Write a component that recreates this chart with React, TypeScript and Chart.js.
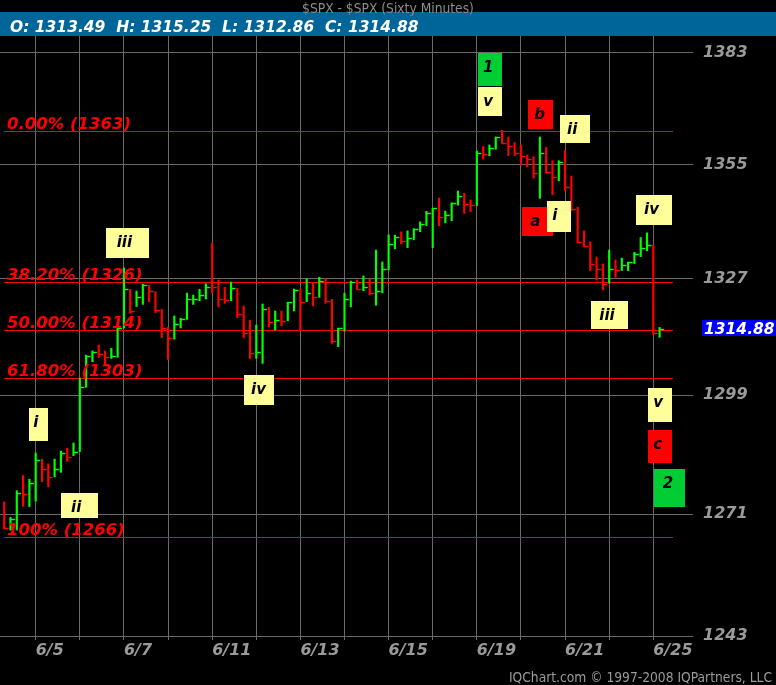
import React, { useEffect, useRef } from "react";
import { Chart, registerables } from "chart.js";

Chart.register(...registerables);

// ---------- text ----------
const titleText = "$SPX - $SPX (Sixty Minutes)";
const copyrightText = "IQChart.com \u00a9 1997-2008 IQPartners, LLC";

// ---------- x axis: trading days (first hourly bar of each day) ----------
const dayLabels = ["6/5", "6/6", "6/7", "6/8", "6/11", "6/12", "6/13", "6/14", "6/15", "6/18", "6/19", "6/20", "6/21", "6/22", "6/25"];
const dayStartBars = [5, 12, 19, 26, 33, 40, 47, 54, 61, 68, 75, 82, 89, 96, 103];

// ---------- hourly HLC bars ----------
const barHighs = [
  1273.9, 1270.3, 1276.5, 1280.1, 1279.2, 1285.35, 1283.9, 1282.8, 1283.9, 1285.8,
  1286.5, 1287.7, 1303.1, 1308.6, 1309.6, 1311.0, 1309.6, 1310.2, 1315.3, 1329.6,
  1324.45, 1324.0, 1325.7, 1325.4, 1323.85, 1319.6, 1315.3, 1318.0, 1317.45, 1323.5,
  1323.05, 1324.45, 1325.8, 1335.7, 1326.7, 1324.95, 1326.2, 1324.7, 1320.4, 1317.0,
  1315.8, 1320.9, 1320.1, 1319.2, 1319.2, 1321.3, 1324.5, 1324.5, 1326.95, 1325.9,
  1327.35, 1326.95, 1322.0, 1315.05, 1323.5, 1326.45, 1326.7, 1327.7, 1326.9, 1334.0,
  1331.1, 1337.7, 1337.65, 1338.45, 1338.7, 1339.2, 1340.9, 1343.5, 1344.2, 1346.75,
  1343.55, 1345.55, 1348.5, 1347.95, 1346.3, 1358.4, 1359.5, 1359.9, 1361.9, 1363.6,
  1361.9, 1360.5, 1359.9, 1357.4, 1357.0, 1361.9, 1359.3, 1356.0, 1356.0, 1358.5,
  1352.2, 1344.5, 1338.7, 1336.0, 1332.3, 1330.6, 1334.0, 1331.6, 1332.05, 1331.05,
  1333.45, 1337.05, 1338.2, 1335.25, 1315.25,
];
const barLows = [
  1267.6, 1267.35, 1267.35, 1272.9, 1272.8, 1274.1, 1278.6, 1277.4, 1279.75, 1280.8,
  1283.4, 1284.7, 1285.7, 1300.9, 1307.0, 1308.0, 1306.2, 1307.8, 1308.05, 1315.1,
  1318.6, 1320.3, 1320.8, 1321.45, 1318.8, 1312.8, 1307.55, 1312.4, 1315.1, 1317.15,
  1320.8, 1321.7, 1322.1, 1323.6, 1320.2, 1321.05, 1321.7, 1317.6, 1312.8, 1307.8,
  1307.8, 1306.6, 1315.4, 1314.6, 1315.6, 1316.85, 1319.2, 1314.6, 1321.45, 1320.45,
  1322.5, 1321.05, 1311.4, 1310.6, 1314.35, 1320.2, 1324.45, 1324.1, 1323.15, 1320.6,
  1323.6, 1329.15, 1334.3, 1335.5, 1334.6, 1336.5, 1338.5, 1339.95, 1334.6, 1339.95,
  1340.7, 1341.2, 1345.0, 1343.0, 1343.4, 1344.9, 1356.4, 1357.2, 1358.85, 1360.35,
  1357.25, 1357.25, 1354.9, 1354.5, 1351.65, 1346.7, 1352.9, 1347.6, 1351.0, 1348.65,
  1343.6, 1335.7, 1334.85, 1329.0, 1326.7, 1324.3, 1325.9, 1327.35, 1329.0, 1329.0,
  1330.7, 1332.4, 1333.8, 1313.6, 1312.86,
];
const barCloses = [
  1267.8, 1269.9, 1276.0, 1275.7, 1278.4, 1283.8, 1281.65, 1279.6, 1281.6, 1285.35,
  1284.3, 1285.55, 1301.0, 1308.45, 1309.3, 1308.85, 1308.05, 1308.3, 1315.1, 1324.5,
  1319.2, 1322.7, 1325.6, 1324.0, 1319.5, 1315.05, 1312.6, 1316.0, 1317.25, 1322.05,
  1322.2, 1323.0, 1325.1, 1324.9, 1322.0, 1321.8, 1324.7, 1318.4, 1313.85, 1309.0,
  1309.25, 1319.6, 1316.5, 1316.95, 1316.85, 1321.3, 1324.2, 1321.3, 1323.5, 1322.5,
  1326.4, 1321.6, 1311.95, 1315.05, 1322.0, 1326.15, 1324.45, 1324.95, 1323.5, 1324.15,
  1329.3, 1335.45, 1337.15, 1336.2, 1336.9, 1339.1, 1340.3, 1343.0, 1344.2, 1342.0,
  1342.6, 1345.5, 1347.25, 1345.4, 1345.05, 1357.85, 1357.65, 1359.1, 1361.9, 1360.35,
  1359.65, 1358.0, 1357.25, 1356.35, 1352.9, 1357.85, 1353.3, 1352.05, 1355.75, 1349.55,
  1344.0, 1335.9, 1335.0, 1330.55, 1329.3, 1325.7, 1329.3, 1329.25, 1330.3, 1331.0,
  1333.0, 1334.6, 1335.2, 1313.8, 1314.88,
];
const lastOpen = 1313.49;
const priorClose = 1270.0;

// ---------- y axis ----------
const priceTicks = [1243, 1271, 1299, 1327, 1355, 1383];

// ---------- fibonacci retracement ----------
const fibLabels = ["0.00% (1363)", "38.20% (1326)", "50.00% (1314)", "61.80% (1303)", "100% (1266)"];
const fibLevels = [1363.5, 1326.1, 1314.6, 1303.06, 1265.7];

// ---------- wave annotations (anchor = top-left corner: bar index, price) ----------
const waveTexts = ["i", "ii", "iii", "iv", "1", "v", "b", "ii", "a", "i", "iv", "iii", "v", "c", "2"];
const waveBars = [3.94, 9.01, 16.16, 38.05, 75.14, 75.14, 83.07, 88.15, 82.12, 86.09, 100.25, 93.11, 102.16, 102.16, 103.11];
const wavePrices = [1295.96, 1276.0, 1339.4, 1303.8, 1383.1, 1374.4, 1371.1, 1367.45, 1344.65, 1346.1, 1347.55, 1321.6, 1300.7, 1290.8, 1281.6];
const waveKinds = ["y", "y", "y", "y", "g", "y", "r", "y", "r", "y", "y", "y", "y", "r", "g"];

// ---------- styles ----------
const waveBoxW = [18.5, 37, 43, 30, 24.3, 24.3, 25.3, 30.3, 31.3, 24.3, 36, 37, 24, 24, 31];
const waveBoxH = [33, 25, 30, 30, 33, 29, 29, 27.6, 29, 31.3, 30, 28, 34, 33, 37.7];
const waveTextDx = [4.3, 10, 10.7, 7, 5, 5.3, 6.3, 7, 8.3, 5.3, 8, 8.3, 5.3, 5.3, 8.7];
const waveFill: Record<string, string> = { y: "#ffff99", r: "#ff0000", g: "#00cc33" };

const X_MIN = -0.665;
const X_MAX = 109.3;
const Y_MIN = 1243;
const Y_MAX = 1387.31;
const FIB_START_BAR = 0;
const FIB_END_BAR = 106.13;

const UP = "#00ff00";
const DOWN = "#ff0000";
const GRID = "#6a6a6a";
const AXIS_TEXT = "#9a9a9a";
const FONT = '"DejaVu Sans", "Liberation Sans", sans-serif';
const NARROW = '"DejaVu Sans Condensed", "Liberation Sans Narrow", "DejaVu Sans", sans-serif';

const barColors = barCloses.map((c, i) => (c >= (i === 0 ? priorClose : barCloses[i - 1]) ? UP : DOWN));

const headerText =
  `O: ${lastOpen.toFixed(2)}  H: ${barHighs[barHighs.length - 1].toFixed(2)}  ` +
  `L: ${barLows[barLows.length - 1].toFixed(2)}  C: ${barCloses[barCloses.length - 1].toFixed(2)}`;

const overlayPlugin = {
  id: "iqOverlay",
  beforeDraw(chart: any) {
    const { ctx, width } = chart;
    ctx.save();
    ctx.fillStyle = "#000";
    ctx.fillRect(0, 0, chart.width, chart.height);
    ctx.fillStyle = "#006699";
    ctx.fillRect(0, 12, width, 24);
    ctx.textBaseline = "alphabetic";
    ctx.fillStyle = "#8c8c8c";
    ctx.font = `13.7px ${NARROW}`;
    ctx.textAlign = "center";
    ctx.fillText(titleText, width / 2, 12.5);
    ctx.fillStyle = "#ffffff";
    ctx.font = `italic bold 15.5px ${FONT}`;
    ctx.textAlign = "left";
    ctx.fillText(headerText, 10, 31.5);
    ctx.fillStyle = AXIS_TEXT;
    ctx.font = `13.7px ${NARROW}`;
    ctx.textAlign = "right";
    ctx.fillText(copyrightText, width - 4, 682);
    ctx.restore();
  },
  beforeDatasetsDraw(chart: any) {
    const { ctx } = chart;
    const xs = chart.scales.x;
    const ys = chart.scales.y;
    ctx.save();
    ctx.strokeStyle = DOWN;
    ctx.lineWidth = 1;
    const x0 = xs.getPixelForValue(FIB_START_BAR);
    const x1 = xs.getPixelForValue(FIB_END_BAR);
    fibLevels.forEach((lv) => {
      const y = Math.round(ys.getPixelForValue(lv)) + 0.5;
      ctx.beginPath();
      ctx.moveTo(x0, y);
      ctx.lineTo(x1, y);
      ctx.stroke();
    });
    ctx.restore();
  },
  afterDatasetsDraw(chart: any) {
    const { ctx } = chart;
    const xs = chart.scales.x;
    const ys = chart.scales.y;
    ctx.save();
    // close ticks
    ctx.lineWidth = 1.4;
    barCloses.forEach((c, i) => {
      const x = xs.getPixelForValue(i);
      const y = Math.round(ys.getPixelForValue(c)) + 0.5;
      ctx.strokeStyle = barColors[i];
      ctx.beginPath();
      ctx.moveTo(x - 0.7, y);
      ctx.lineTo(x + 4.5, y);
      ctx.stroke();
    });
    // fib labels
    ctx.fillStyle = DOWN;
    ctx.font = `italic bold 16.5px ${FONT}`;
    ctx.textAlign = "left";
    ctx.textBaseline = "alphabetic";
    fibLevels.forEach((lv, i) => {
      const y = ys.getPixelForValue(lv);
      ctx.fillText(fibLabels[i], 7, y - 2);
    });
    // wave boxes
    ctx.font = `italic bold 15px ${FONT}`;
    waveTexts.forEach((t, i) => {
      const x = Math.round(xs.getPixelForValue(waveBars[i]));
      const y = Math.round(ys.getPixelForValue(wavePrices[i]));
      ctx.fillStyle = waveFill[waveKinds[i]];
      ctx.fillRect(x, y, Math.round(waveBoxW[i]), Math.round(waveBoxH[i]));
      ctx.fillStyle = "#000";
      ctx.fillText(t, x + waveTextDx[i], y + 18.5);
    });
    // last price flag
    const last = barCloses[barCloses.length - 1];
    const ly = ys.getPixelForValue(last);
    const left = chart.chartArea.right + 9;
    ctx.fillStyle = "#0000ff";
    ctx.fillRect(left, Math.round(ly - 8.6), chart.width - left, 16);
    ctx.fillStyle = "#ffffff";
    ctx.font = `italic bold 15.5px ${FONT}`;
    ctx.fillText(last.toFixed(2), left + 2, ly + 5);
    ctx.restore();
  },
};

export default function App() {
  const ref = useRef<HTMLCanvasElement>(null);

  useEffect(() => {
    document.body.style.margin = "0";
    document.body.style.background = "#000";
    const canvas = ref.current;
    if (!canvas) return;
    const tickFont = { family: "DejaVu Sans", size: 16, style: "italic" as const, weight: "bold" as const };
    const chart = new Chart(canvas, {
      type: "bar",
      data: {
        datasets: [
          {
            data: barHighs.map((h, i) => ({ x: i, y: [barLows[i], h] })) as any,
            backgroundColor: barColors,
            borderWidth: 0,
            barThickness: 1.5,
            grouped: false,
          } as any,
        ],
      },
      options: {
        responsive: false,
        animation: false,
        devicePixelRatio: 1,
        events: [],
        layout: { padding: { top: 36, left: 0, right: 0, bottom: 0 } },
        plugins: { legend: { display: false }, tooltip: { enabled: false }, title: { display: false } },
        scales: {
          x: {
            type: "linear",
            min: X_MIN,
            max: X_MAX,
            offset: false,
            bounds: "data",
            afterBuildTicks: (s: any) => {
              s.ticks = dayStartBars.map((v) => ({ value: v }));
            },
            afterFit: (s: any) => {
              s.height = 49;
            },
            grid: { color: GRID, lineWidth: 1, drawTicks: true, tickLength: 4, offset: false },
            border: { display: false },
            ticks: {
              autoSkip: false,
              maxRotation: 0,
              minRotation: 0,
              align: "start",
              padding: 1,
              color: AXIS_TEXT,
              font: tickFont,
              callback: (_v: any, i: number) => (i % 2 === 0 ? dayLabels[i] : ""),
            },
          },
          y: {
            type: "logarithmic",
            position: "right",
            min: Y_MIN,
            max: Y_MAX,
            bounds: "data",
            afterBuildTicks: (s: any) => {
              s.ticks = priceTicks.map((v) => ({ value: v }));
            },
            afterFit: (s: any) => {
              s.width = 83;
            },
            grid: { color: GRID, lineWidth: 1, drawTicks: false },
            border: { display: false },
            ticks: {
              autoSkip: false,
              padding: 10,
              color: AXIS_TEXT,
              font: tickFont,
              callback: (v: any) => String(v),
            },
          },
        } as any,
      },
      plugins: [overlayPlugin],
    });
    return () => chart.destroy();
  }, []);

  return (
    <div style={{ position: "absolute", left: 0, top: 0, width: 776, height: 685, background: "#000" }}>
      <canvas ref={ref} width={776} height={685} style={{ display: "block", width: 776, height: 685 }} />
    </div>
  );
}
